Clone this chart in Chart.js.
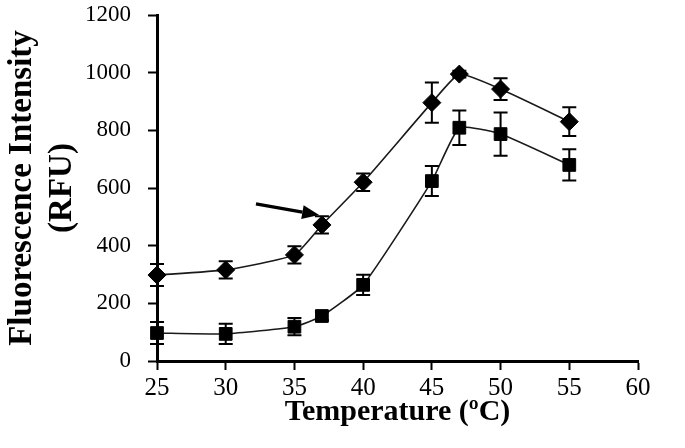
<!DOCTYPE html>
<html>
<head>
<meta charset="utf-8">
<script src="https://cdn.jsdelivr.net/npm/chart.js@4/dist/chart.umd.min.js"></script>
<style>
  html, body { margin: 0; padding: 0; background: #fff; }
  #wrap { width: 685px; height: 448px; }
</style>
</head>
<body>
<div id="wrap"><canvas id="c" width="685" height="448"></canvas></div>
<script>
// ---- data ----
const temperatures = [25, 30, 35, 37, 40, 45, 47, 50, 55];
const diamondValues = [298, 316, 368, 472, 620, 896, 995, 943, 830];
const diamondErrors = [38, 30, 30, 30, 30, 70, 12, 38, 50];
const squareValues = [97, 94, 119, 156, 264, 624, 809, 787, 680];
const squareErrors = [38, 35, 30, 15, 35, 52, 60, 75, 54];
const xTickValues = [25, 30, 35, 40, 45, 50, 55, 60];
const yTickValues = [0, 200, 400, 600, 800, 1000, 1200];
const arrowTail = [32.2, 545];
const arrowTip = [36.8, 506];

const toPoints = (xs, ys) => xs.map((x, i) => ({ x: x, y: ys[i] }));

const errorBarPlugin = {
  id: 'errorBars',
  afterDatasetsDraw(chart) {
    const ctx = chart.ctx;
    const xs = chart.scales.x, ys = chart.scales.y;
    const sets = [[diamondValues, diamondErrors], [squareValues, squareErrors]];
    ctx.save();
    ctx.strokeStyle = '#000';
    ctx.lineWidth = 2;
    sets.forEach(([vals, errs]) => {
      temperatures.forEach((t, i) => {
        const px = xs.getPixelForValue(t);
        const top = ys.getPixelForValue(vals[i] + errs[i]);
        const bot = ys.getPixelForValue(vals[i] - errs[i]);
        ctx.beginPath();
        ctx.moveTo(px, top); ctx.lineTo(px, bot);
        ctx.moveTo(px - 7, top); ctx.lineTo(px + 7, top);
        ctx.moveTo(px - 7, bot); ctx.lineTo(px + 7, bot);
        ctx.stroke();
      });
    });
    // arrow annotation
    const x1 = xs.getPixelForValue(arrowTail[0]), y1 = ys.getPixelForValue(arrowTail[1]);
    const x2 = xs.getPixelForValue(arrowTip[0]), y2 = ys.getPixelForValue(arrowTip[1]);
    const ang = Math.atan2(y2 - y1, x2 - x1);
    const headLen = 17, headW = 7;
    const bx = x2 - headLen * Math.cos(ang), by = y2 - headLen * Math.sin(ang);
    ctx.lineWidth = 3.2;
    ctx.beginPath();
    ctx.moveTo(x1, y1); ctx.lineTo(bx, by);
    ctx.stroke();
    ctx.fillStyle = '#000';
    ctx.beginPath();
    ctx.moveTo(x2, y2);
    ctx.lineTo(bx + headW * Math.sin(ang), by - headW * Math.cos(ang));
    ctx.lineTo(bx - headW * Math.sin(ang), by + headW * Math.cos(ang));
    ctx.closePath();
    ctx.fill();
    ctx.restore();
  }
};

const serif = "'Liberation Serif', 'Times New Roman', serif";

new Chart(document.getElementById('c'), {
  type: 'line',
  data: {
    datasets: [
      {
        data: toPoints(temperatures, diamondValues),
        borderColor: '#1a1a1a', borderWidth: 1.6,
        pointStyle: 'rectRot', pointRadius: 9, pointBackgroundColor: '#000',
        pointBorderColor: '#000', pointBorderWidth: 1,
        tension: 0.15, clip: false, fill: false
      },
      {
        data: toPoints(temperatures, squareValues),
        borderColor: '#1a1a1a', borderWidth: 1.6,
        pointStyle: 'rect', pointRadius: 9, pointBackgroundColor: '#000',
        pointBorderColor: '#000', pointBorderWidth: 1,
        tension: 0.15, clip: false, fill: false
      }
    ]
  },
  options: {
    responsive: false,
    animation: false,
    layout: { padding: { left: 0, right: 47, top: 0, bottom: 0 } },
    plugins: { legend: { display: false }, tooltip: { enabled: false } },
    scales: {
      x: {
        type: 'linear', min: 25, max: 60,
        afterBuildTicks: (s) => { s.ticks = xTickValues.map(v => ({ value: v })); },
        afterFit: (s) => { s.height = 87; },
        ticks: { color: '#000', font: { family: serif, size: 25 }, padding: 3, maxRotation: 0,
          callback: (v) => String(v) },
        grid: { drawOnChartArea: false, drawTicks: true, tickLength: 9, tickWidth: 2, tickColor: '#000' },
        border: { display: true, color: '#000', width: 3 },
        title: { display: true, text: 'Temperature (ºC)', color: '#000',
          font: { family: serif, size: 30, weight: 'bold', lineHeight: 1.2 },
          padding: { top: 0, bottom: 18 } }
      },
      y: {
        type: 'linear', min: 0, max: 1200,
        afterBuildTicks: (s) => { s.ticks = yTickValues.map(v => ({ value: v })); },
        afterFit: (s) => { s.width = 157; s.paddingTop = 15; s.paddingBottom = 0; },
        ticks: { color: '#000', font: { family: serif, size: 23 }, padding: 17,
          callback: (v) => String(v) },
        grid: { drawOnChartArea: false, drawTicks: true, tickLength: 9, tickWidth: 2, tickColor: '#000' },
        border: { display: true, color: '#000', width: 3 },
        title: { display: true, text: ['Fluorescence Intensity', '(RFU)'], color: '#000',
          font: { family: serif, size: 33, weight: 'bold', lineHeight: 1.22 },
          padding: { top: 2, bottom: 0 } }
      }
    }
  },
  plugins: [errorBarPlugin]
});
</script>
</body>
</html>
